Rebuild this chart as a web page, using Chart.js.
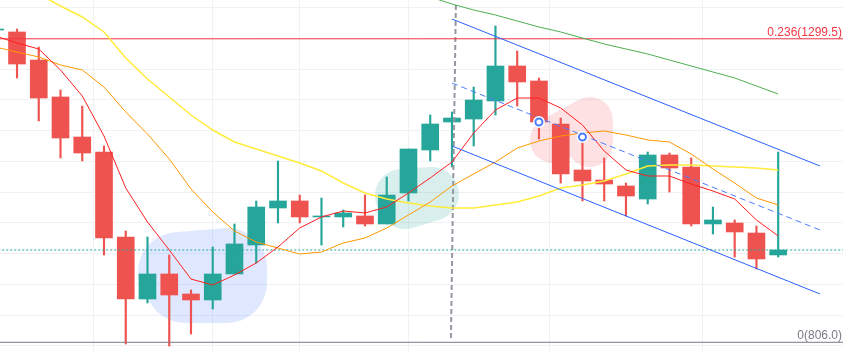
<!DOCTYPE html>
<html>
<head>
<meta charset="utf-8">
<script src="https://cdn.jsdelivr.net/npm/chart.js@4.4.0/dist/chart.umd.min.js"></script>
<style>
  html, body { margin: 0; padding: 0; background: #ffffff; }
  #wrap { width: 843px; height: 353px; }
</style>
</head>
<body>
<div id="wrap"><canvas id="priceChart" width="843" height="353"></canvas></div>
<script>
// --- Candles (one per bar, index = x position) ---
const opens = [1313.8, 1310.6, 1265.0, 1204.9, 1139.8, 1115.4, 977.2, 876.4, 917.1, 884.6,
  874.8, 917.1, 964.2, 1024.4, 1035.8, 1009.8, 1009.8, 1011.4, 998.4, 1048.8,
  1118.7, 1164.2, 1169.1, 1198.4, 1255.3, 1230.9, 1161.0, 1086.2, 1069.9, 1060.2,
  1039.0, 1110.6, 1091.1, 998.4, 1000.0, 983.7, 948.0];
const highs = [1317.1, 1315.4, 1286.2, 1216.3, 1190.2, 1125.2, 987.0, 977.2, 948.0, 891.1,
  961.0, 998.4, 1035.8, 1100.8, 1045.5, 1040.6, 1021.1, 1045.5, 1074.8, 1120.3,
  1175.6, 1180.5, 1221.1, 1320.3, 1279.7, 1235.8, 1170.7, 1139.8, 1105.7, 1065.0,
  1115.4, 1113.8, 1105.7, 1026.0, 1004.9, 995.1, 1115.4];
const lows = [1312.2, 1235.8, 1165.9, 1105.7, 1100.8, 948.0, 803.3, 869.9, 800.0, 819.5,
  860.2, 917.1, 935.0, 1000.0, 1000.0, 964.2, 993.5, 995.1, 998.4, 1035.8,
  1100.8, 1091.1, 1125.2, 1175.6, 1190.2, 1136.6, 1065.0, 1035.8, 1035.8, 1011.4,
  1030.9, 1050.4, 995.1, 982.1, 944.7, 925.2, 944.7];
const closes = [1315.4, 1258.5, 1203.2, 1138.2, 1113.8, 975.6, 876.4, 917.1, 882.9, 874.8,
  917.1, 965.9, 1026.0, 1035.8, 1009.8, 1011.4, 1016.3, 998.4, 1045.5, 1120.3,
  1161.0, 1170.7, 1200.0, 1255.3, 1229.3, 1164.2, 1079.7, 1068.3, 1063.4, 1043.9,
  1110.6, 1089.4, 998.4, 1004.9, 985.4, 941.5, 956.1];

// --- Moving averages ---
const maRed = [1304.1, 1292.7, 1282.9, 1248.8, 1206.5, 1141.5, 1056.9, 1001.6, 956.1, 908.9,
  899.2, 915.4, 935.0, 961.0, 991.9, 1009.8, 1019.5, 1016.3, 1026.0, 1048.8,
  1073.2, 1099.2, 1146.3, 1183.7, 1203.2, 1203.2, 1187.0, 1159.3, 1117.1, 1086.2,
  1076.4, 1076.4, 1063.4, 1052.0, 1039.0, 1004.9, 978.9];
const maOrange = [1286.2, 1278.0, 1269.9, 1256.9, 1248.8, 1221.1, 1180.5, 1144.7, 1104.1, 1055.3,
  1017.9, 987.0, 969.1, 959.3, 949.6, 952.8, 967.5, 975.6, 991.9, 1013.0,
  1034.1, 1060.2, 1079.7, 1099.2, 1121.9, 1133.3, 1141.5, 1146.3, 1149.6, 1143.1,
  1135.0, 1131.7, 1112.2, 1087.8, 1065.0, 1040.6, 1029.3];
const maYellow = [1408.1, 1390.2, 1372.4, 1352.8, 1335.0, 1310.6, 1268.3, 1234.1, 1204.9, 1175.6,
  1151.2, 1131.7, 1120.3, 1108.9, 1097.6, 1084.6, 1065.0, 1048.8, 1039.0, 1032.5,
  1027.6, 1024.4, 1024.4, 1029.3, 1034.1, 1043.9, 1056.9, 1061.8, 1068.3, 1079.7,
  1092.7, 1094.3, 1094.3, 1092.7, 1091.1, 1089.4, 1086.2];
const maGreen = [null, null, null, null, null, null, null, null, null, null,
  null, null, null, null, null, null, null, null, 1391.9, 1378.9,
  1367.5, 1356.1, 1346.3, 1338.2, 1328.5, 1318.7, 1310.6, 1300.8, 1291.1, 1282.9,
  1274.8, 1265.0, 1255.3, 1245.5, 1235.8, 1222.8, 1209.8];

// --- Drawings ---
const fibLevels = [0.236, 0];
const fibPrices = [1299.5, 806.0];
const lastPrice = 956.1;
const channelX = [21, 37.92];
const channelUpper = [1331.7, 1092.7];
const channelMid = [1227.6, 988.6];
const channelLower = [1125.2, 884.6];
const vertLineX = [21.18, 20.95];
const vertLineY = [1354.5, 809.8];
const markerX = [25, 27];
const markerY = [1164.2, 1139.8];
const blueBlobX = [8.4, 10.655, 10.655, 8.72];
const blueBlobY = [920.3, 926.8, 902.4, 902.4];
const greenBlobX = [18.7, 20.08, 18.84];
const greenBlobY = [1043.9, 1047.2, 1034.1];
const pinkBlobX = [25.64, 27.34, 27.34];
const pinkBlobY = [1135.0, 1167.5, 1128.5];

// --- Axis ranges / grid ---
const xMin = 0.218, xMax = 38.98;
const yMin = 788.6, yMax = 1362.6;
const timeGridX = [1, 8, 12, 16, 22, 29, 36];
const priceGrid = [800, 850, 900, 950, 1000, 1050, 1100, 1150, 1200, 1250, 1300, 1350];

const UP = "#26a69a";
const DOWN = "#ef5350";

const pts = (xs, ys) => xs.map((x, i) => ({ x: x, y: ys[i] }));
const series = (vals) => vals.map((v, i) => ({ x: i, y: v }));

function lineSet(data, color, extra) {
  return Object.assign({
    type: "line",
    data: data,
    borderColor: color,
    borderWidth: 1,
    pointRadius: 0,
    tension: 0,
    fill: false,
  }, extra || {});
}

// highlighter strokes: a thick round-capped polyline
function blobSet(xs, ys, color, width) {
  return lineSet(pts(xs, ys), color, {
    borderWidth: width,
    borderCapStyle: "round",
    borderJoinStyle: "round",
  });
}

// Fibonacci level labels, right aligned above each line
const fibLabels = {
  id: "fibLabels",
  afterDatasetsDraw(chart) {
    const ctx = chart.ctx;
    const y = chart.scales.y;
    const colors = ["#f23645", "#787b86"];
    ctx.save();
    ctx.font = '12px "Liberation Sans", Arial, sans-serif';
    ctx.textAlign = "right";
    ctx.textBaseline = "alphabetic";
    fibLevels.forEach((lvl, i) => {
      ctx.fillStyle = colors[i];
      ctx.fillText(lvl + "(" + fibPrices[i].toFixed(1) + ")", chart.chartArea.right - 1, y.getPixelForValue(fibPrices[i]) - 3);
    });
    ctx.restore();
  },
};

const fullX = [xMin - 1, xMax + 1];

new Chart(document.getElementById("priceChart"), {
  type: "bar",
  data: {
    datasets: [
      // markers on top
      lineSet(pts(markerX, markerY), "#2962ff", {
        showLine: false, pointRadius: 3.5, pointBorderWidth: 2,
        pointBorderColor: "#4a7dff", pointBackgroundColor: "#ffffff",
      }),
      lineSet(pts(markerX, markerY), "#ffffff", {
        showLine: false, pointRadius: 6, pointBorderWidth: 0, pointBackgroundColor: "#ffffff",
      }),
      // channel
      lineSet(pts(channelX, channelUpper), "#2962ff"),
      lineSet(pts(channelX, channelMid), "#4a7dff", { borderDash: [6, 4] }),
      lineSet(pts(channelX, channelLower), "#2962ff"),
      // moving averages
      lineSet(series(maRed), "#ff1f1f"),
      lineSet(series(maOrange), "#ff9800"),
      lineSet(series(maYellow), "#ffeb3b", { borderWidth: 1.5 }),
      lineSet(series(maGreen), "#4caf50"),
      // horizontal levels
      lineSet(pts(fullX, [fibPrices[0], fibPrices[0]]), "#f23645"),
      lineSet(pts(fullX, [fibPrices[1], fibPrices[1]]), "#787b86"),
      lineSet(pts(fullX, [lastPrice, lastPrice]), UP, { borderDash: [2, 2] }),
      lineSet(pts(vertLineX, vertLineY), "#9598a1", { borderWidth: 2, borderDash: [5, 3] }),
      // candle bodies
      {
        type: "bar",
        data: opens.map((o, i) => ({ x: i, y: [o, closes[i]] })),
        backgroundColor: opens.map((o, i) => (closes[i] >= o ? UP : DOWN)),
        barThickness: 17,
        minBarLength: 1,
        grouped: false,
      },
      // wicks
      {
        type: "bar",
        data: lows.map((l, i) => ({ x: i, y: [l, highs[i]] })),
        backgroundColor: opens.map((o, i) => (closes[i] >= o ? UP : DOWN)),
        barThickness: 1.5,
        grouped: false,
      },
      // highlighter blobs
      blobSet(pinkBlobX, pinkBlobY, "rgba(242, 54, 69, 0.15)", 46),
      blobSet(greenBlobX, greenBlobY, "rgba(38, 166, 154, 0.18)", 54),
      blobSet(blueBlobX, blueBlobY, "rgba(41, 98, 255, 0.15)", 80),
    ],
  },
  options: {
    responsive: false,
    animation: false,
    events: [],
    layout: { padding: 0, autoPadding: false },
    plugins: { legend: { display: false }, tooltip: { enabled: false } },
    scales: {
      x: {
        type: "linear",
        min: xMin,
        max: xMax,
        offset: false,
        ticks: { display: false },
        grid: { color: "#f0f1f4", drawTicks: false },
        border: { display: false },
        afterBuildTicks: (axis) => { axis.ticks = timeGridX.map((v) => ({ value: v })); },
      },
      y: {
        type: "linear",
        min: yMin,
        max: yMax,
        ticks: { display: false },
        grid: { color: "#f0f1f4", drawTicks: false },
        border: { display: false },
        afterBuildTicks: (axis) => { axis.ticks = priceGrid.map((v) => ({ value: v })); },
      },
    },
  },
  plugins: [fibLabels],
});
</script>
</body>
</html>
